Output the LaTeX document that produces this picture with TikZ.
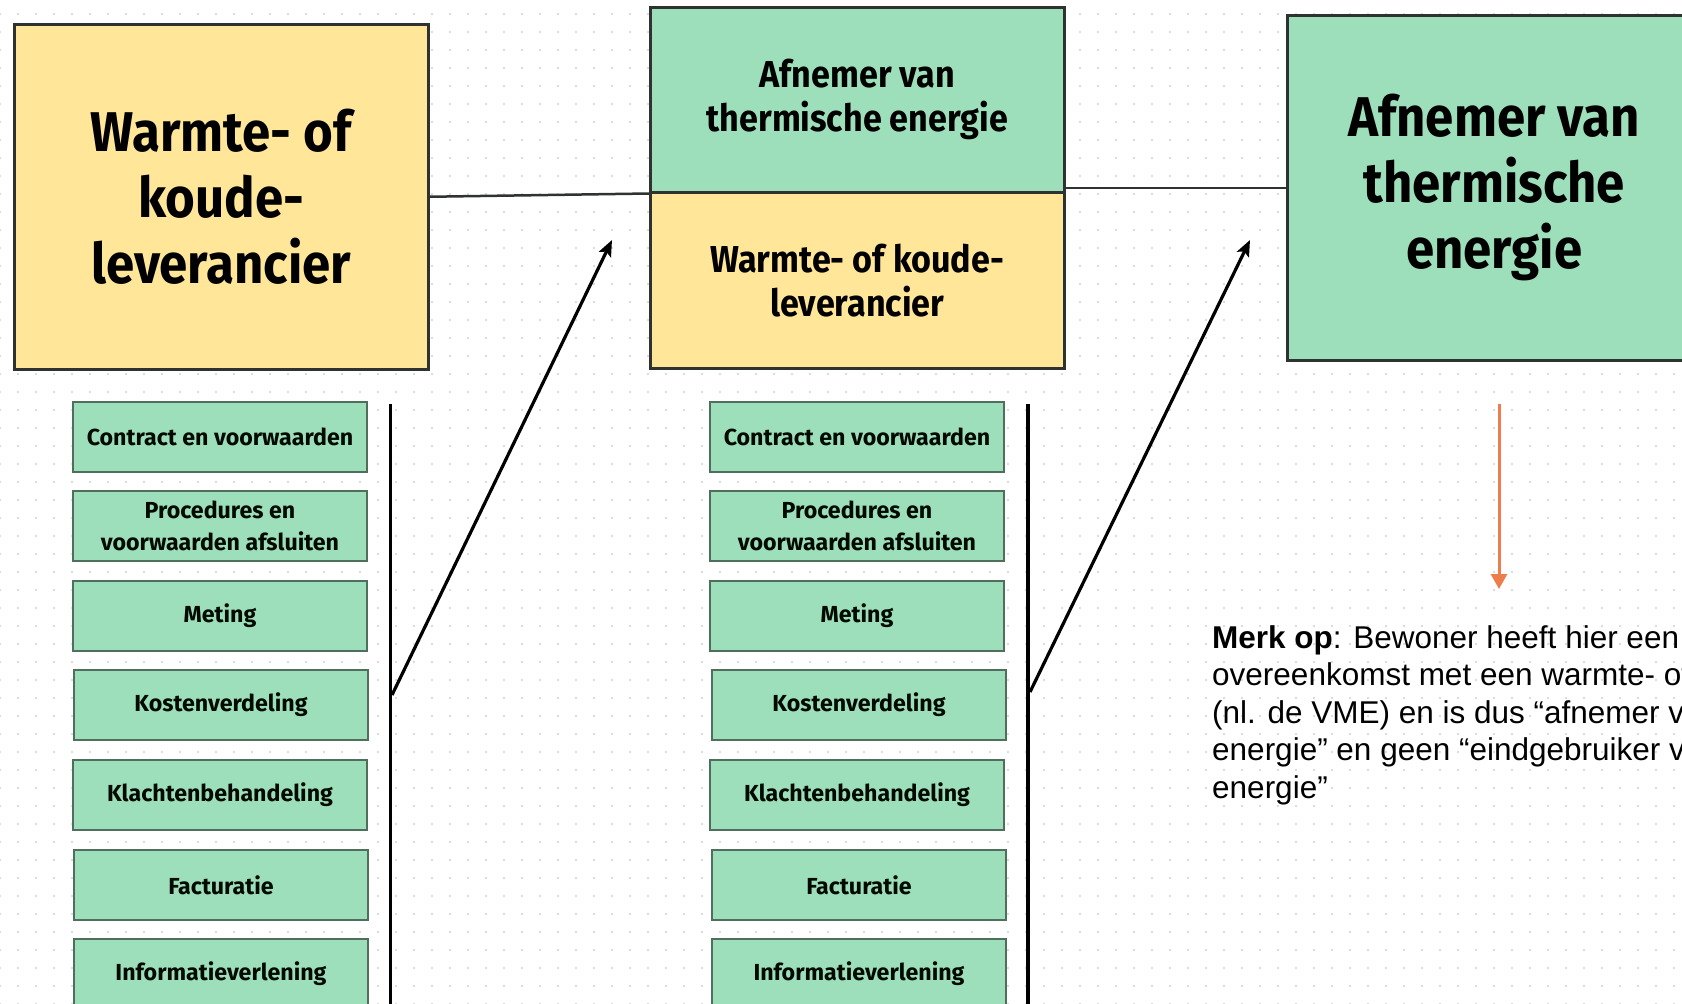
\documentclass[tikz,border=0pt]{standalone}
\usepackage{fontspec}
\setmainfont{Liberation Sans}
\newfontfamily\boxfont{Fira Sans}
\newfontfamily\boxfontn{Fira Sans}[FakeStretch=0.91]
\usetikzlibrary{arrows.meta,patterns.meta}
\definecolor{ylw}{HTML}{FFE699}
\definecolor{grn}{HTML}{9DDFBB}
\definecolor{bord}{HTML}{2F3330}
\definecolor{sbord}{HTML}{4F6F5C}
\definecolor{orng}{HTML}{ED7D4A}
\definecolor{dotc}{HTML}{D0D0D0}
\begin{document}
\begin{tikzpicture}[x=1pt,y=-1pt,
  bigbox/.style={draw=bord,line width=2.5pt,minimum width=414pt,inner sep=0pt,align=center,anchor=north west,
    font=\boxfontn\bfseries\fontsize{56}{66}\selectfont,text=black},
  midbox/.style={draw=bord,line width=2.5pt,minimum width=414pt,inner sep=0pt,align=center,anchor=north west,
    font=\boxfontn\bfseries\fontsize{37.5}{44}\selectfont,text=black},
  taskbox/.style={draw=sbord,line width=2pt,fill=grn,minimum width=294pt,minimum height=70pt,inner sep=0pt,
    align=center,anchor=north west,font=\boxfont\bfseries\fontsize{23.2}{31.7}\selectfont,text={black!90!green!40!black}},
  conn/.style={draw=bord,line width=2.5pt},
  vline/.style={draw=black,line width=3.3pt},
  blkarrow/.style={draw=black,line width=3.2pt,-{Stealth[length=16pt,width=13pt,inset=3pt]}},
  orarrow/.style={draw=orng,line width=3pt,-{Triangle[length=15pt,width=16pt]}}
]
\useasboundingbox (0,0) rectangle (1682,1004);
\clip (0,0) rectangle (1682,1004);
\fill[white] (0,0) rectangle (1682,1004);
\fill[pattern={Dots[radius=1.1pt,distance=18pt]},pattern color=dotc] (0,0) rectangle (1682,1004);

% top boxes
\node[bigbox,fill=ylw,minimum height=345pt] (lsup) at (13,23) {Warmte- of\\koude-\\leverancier};
\node[midbox,fill=grn,minimum height=185pt] (mgrn) at (649,6) {Afnemer van\\thermische energie};
\node[midbox,fill=ylw,minimum height=176pt] (mylw) at (649,191) {Warmte- of koude-\\leverancier};
\node[bigbox,fill=grn,minimum height=345pt] (rgrn) at (1286,14) {Afnemer van\\thermische\\energie};

\draw[conn] (lsup.east) -- (mgrn.south west);
\draw[conn] (mgrn.east |- rgrn.west) -- (rgrn.west);

% left column
\node[taskbox] (l1) at (72,401) {Contract en voorwaarden};
\node[taskbox] (l2) at (72,490) {Procedures en\\voorwaarden afsluiten};
\node[taskbox] (l3) at (72,579.5) {Meting};
\node[taskbox] (l4) at (73,669) {Kostenverdeling};
\node[taskbox] (l5) at (72,759) {Klachtenbehandeling};
\node[taskbox] (l6) at (73,849) {Facturatie};
\node[taskbox] (l7) at (73,938) {Informatieverlening};

% middle column
\node[taskbox] (m1) at (709,401) {Contract en voorwaarden};
\node[taskbox] (m2) at (709,490) {Procedures en\\voorwaarden afsluiten};
\node[taskbox] (m3) at (709,579.5) {Meting};
\node[taskbox] (m4) at (711,669) {Kostenverdeling};
\node[taskbox] (m5) at (709,759) {Klachtenbehandeling};
\node[taskbox] (m6) at (711,849) {Facturatie};
\node[taskbox] (m7) at (711,938) {Informatieverlening};

% vertical lines and arrows
\coordinate (v1t) at (390.5,404);
\coordinate (v1b) at (390.5,1010);
\coordinate (v2t) at (1028,404);
\coordinate (v2b) at (1028,1010);
\draw[vline] (v1t) -- (v1b);
\draw[vline] (v2t) -- (v2b);
\coordinate (a1s) at (392,695);
\coordinate (a1e) at (612,240);
\coordinate (a2s) at (1030,692);
\coordinate (a2e) at (1250,240);
\draw[blkarrow] (a1s) -- (a1e);
\draw[blkarrow] (a2s) -- (a2e);

% orange arrow and note
\coordinate (o1) at (1499,404);
\coordinate (o2) at (1499,589);
\draw[orarrow] (o1) -- (o2);
\node[anchor=base west,align=left,inner sep=0pt,font=\fontsize{31.5}{37.5}\selectfont] (note) at (1212,798)
  {\textbf{Merk op}: Bewoner heeft hier een\\overeenkomst met een warmte- of\\(nl. de VME) en is dus “afnemer van\\energie” en geen “eindgebruiker van\\energie”};
\end{tikzpicture}
\end{document}
